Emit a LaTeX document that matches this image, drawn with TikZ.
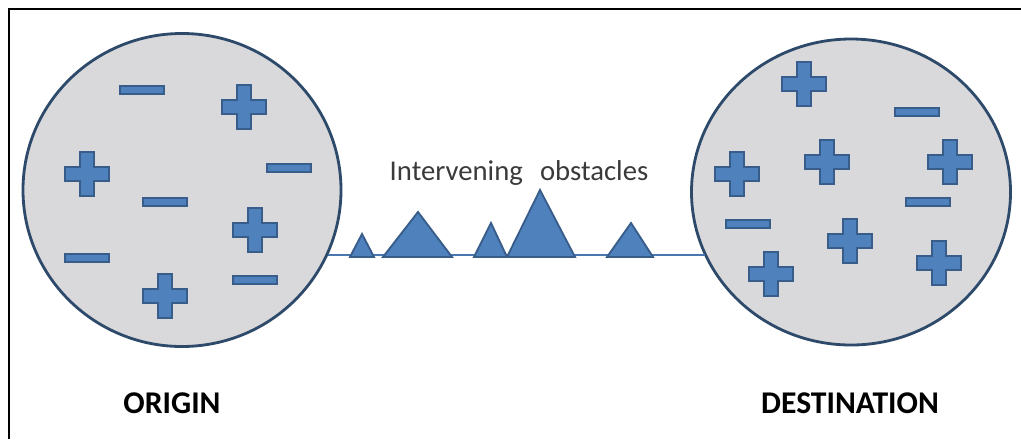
\documentclass[tikz,border=0pt]{standalone}
\usepackage{fontspec}
\setmainfont{Carlito}
\usetikzlibrary{shapes.geometric}
\definecolor{signfill}{HTML}{4F81BD}
\definecolor{signline}{HTML}{385D8A}
\definecolor{ballfill}{HTML}{D9D9DB}
\definecolor{ballline}{HTML}{2E4A6B}
\definecolor{textgray}{HTML}{3A3A3A}
\tikzset{
  ball/.style={draw=ballline, fill=ballfill, line width=2.4pt, ellipse, inner sep=0pt},
  sign/.style={draw=signline, fill=signfill, line width=1.4pt, line join=miter},
  plus/.pic={\path[sign] (-7,-22) -- (7,-22) -- (7,-7) -- (22,-7) -- (22,7) -- (7,7)
    -- (7,22) -- (-7,22) -- (-7,7) -- (-22,7) -- (-22,-7) -- (-7,-7) -- cycle;},
  minus/.pic={\path[sign] (-22,-4) rectangle (22,4);},
  hill/.style={draw=signline, fill=signfill, line width=1.6pt, line join=miter},
  label/.style={inner sep=0pt, font=\fontsize{27}{30}\selectfont\bfseries}
}
\begin{document}
\begin{tikzpicture}[x=0.03cm, y=-0.03cm]
\useasboundingbox (0,0) rectangle (1021,439);
\draw[line width=1.8pt] (9,439) -- (9,9) -- (1021,9);
\node[ball, minimum width=9.54cm, minimum height=9.39cm] (o) at (182,190) {};
\node[ball, minimum width=9.57cm, minimum height=9.18cm] (d) at (851,192) {};
\coordinate (a) at (o.-24.8);
\draw[draw=signfill!75!signline, line width=2.2pt] (a) -- (a -| d.-156);
\path[hill] (350,257) -- (362,234) -- (374,257) -- cycle;
\path[hill] (383,257) -- (418,212) -- (452,257) -- cycle;
\path[hill] (474,257) -- (491,223) -- (507,257) -- cycle;
\path[hill] (507,257) -- (540,190) -- (575,257) -- cycle;
\path[hill] (607,257) -- (631,223) -- (653,257) -- cycle;
\node[anchor=base, inner sep=0pt, text=textgray, font=\fontsize{24.5}{28}\selectfont] (t) at (519,180) {Intervening\hspace{0.6em}obstacles};
% origin charges
\pic at (142,90) {minus};
\pic at (244,107) {plus};
\pic at (87,174) {plus};
\pic at (289,168) {minus};
\pic at (165,202) {minus};
\pic at (255,230) {plus};
\pic at (87,258) {minus};
\pic at (255,280) {minus};
\pic at (165,296) {plus};
% destination charges
\pic at (804,84) {plus};
\pic at (917,112) {minus};
\pic at (737,174) {plus};
\pic at (827,162) {plus};
\pic at (950,162) {plus};
\pic at (928,202) {minus};
\pic at (748,224) {minus};
\pic at (850,241) {plus};
\pic at (939,263) {plus};
\pic at (771,274) {plus};
\node[label] (lo) at (172,403) {ORIGIN};
\node[label] (ld) at (850,403) {DESTINATION};
\end{tikzpicture}
\end{document}
